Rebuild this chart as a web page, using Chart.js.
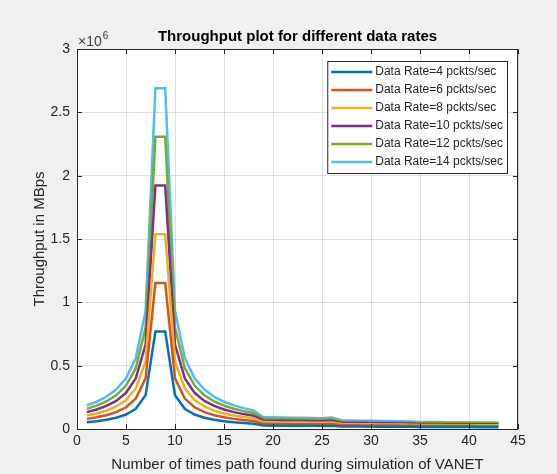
<!DOCTYPE html>
<html>
<head>
<meta charset="utf-8">
<script src="https://cdn.jsdelivr.net/npm/chart.js@4/dist/chart.umd.min.js"></script>
<style>
  html, body { margin: 0; padding: 0; background: #f0f0f0; }
  #wrap { width: 557px; height: 474px; }
</style>
</head>
<body>
<div id="wrap"><canvas id="throughputChart" width="557" height="474"></canvas></div>
<script>
// x positions: number of times path found
const pathCounts = [1, 2, 3, 4, 5, 6, 7, 8, 9, 10, 11, 12, 13, 14, 15, 16, 17, 18, 19, 20, 21, 22,
  23, 24, 25, 26, 27, 28, 29, 30, 31, 32, 33, 34, 35, 36, 37, 38, 39, 40, 41, 42, 43];

// throughput values, in units of 1e6
const rate4 = [0.0533, 0.0615, 0.0727, 0.0889, 0.1143, 0.16, 0.2667, 0.7688, 0.7688, 0.2667, 0.16,
  0.1143, 0.0889, 0.0727, 0.0615, 0.0533, 0.0470, 0.0421, 0.0272, 0.0264, 0.0260, 0.0256, 0.0252,
  0.0248, 0.0244, 0.0260, 0.0196, 0.0192, 0.0188, 0.0184, 0.0180, 0.0180, 0.0176, 0.0172, 0.0160,
  0.0156, 0.0156, 0.0152, 0.0152, 0.0152, 0.0148, 0.0148, 0.0148];
const rate6 = [0.0800, 0.0923, 0.1091, 0.1333, 0.1714, 0.24, 0.40, 1.1532, 1.1532, 0.40, 0.24,
  0.1714, 0.1333, 0.1091, 0.0923, 0.0800, 0.0706, 0.0632, 0.0408, 0.0396, 0.0390, 0.0384, 0.0378,
  0.0372, 0.0366, 0.0390, 0.0294, 0.0288, 0.0282, 0.0276, 0.0270, 0.0270, 0.0264, 0.0258, 0.0240,
  0.0234, 0.0234, 0.0228, 0.0228, 0.0228, 0.0222, 0.0222, 0.0222];
const rate8 = [0.1066, 0.1230, 0.1454, 0.1778, 0.2286, 0.32, 0.5334, 1.5376, 1.5376, 0.5334, 0.32,
  0.2286, 0.1778, 0.1454, 0.1230, 0.1066, 0.0941, 0.0842, 0.0544, 0.0528, 0.0520, 0.0512, 0.0504,
  0.0496, 0.0488, 0.0520, 0.0392, 0.0384, 0.0376, 0.0368, 0.0360, 0.0360, 0.0352, 0.0344, 0.0320,
  0.0312, 0.0312, 0.0304, 0.0304, 0.0304, 0.0296, 0.0296, 0.0296];
const rate10 = [0.1333, 0.1538, 0.1818, 0.2222, 0.2857, 0.40, 0.6667, 1.922, 1.922, 0.6667, 0.40,
  0.2857, 0.2222, 0.1818, 0.1538, 0.1333, 0.1176, 0.1053, 0.068, 0.066, 0.065, 0.064, 0.063,
  0.062, 0.061, 0.065, 0.049, 0.048, 0.047, 0.046, 0.045, 0.045, 0.044, 0.043, 0.040,
  0.039, 0.039, 0.038, 0.038, 0.038, 0.037, 0.037, 0.037];
const rate12 = [0.1600, 0.1846, 0.2182, 0.2666, 0.3428, 0.48, 0.80, 2.3064, 2.3064, 0.80, 0.48,
  0.3428, 0.2666, 0.2182, 0.1846, 0.1600, 0.1411, 0.1264, 0.0816, 0.0792, 0.0780, 0.0768, 0.0756,
  0.0744, 0.0732, 0.0780, 0.0588, 0.0576, 0.0564, 0.0552, 0.0540, 0.0540, 0.0528, 0.0516, 0.0480,
  0.0468, 0.0468, 0.0456, 0.0456, 0.0456, 0.0444, 0.0444, 0.0444];
const rate14 = [0.1866, 0.2153, 0.2545, 0.3111, 0.40, 0.56, 0.9334, 2.6908, 2.6908, 0.9334, 0.56,
  0.40, 0.3111, 0.2545, 0.2153, 0.1866, 0.1646, 0.1474, 0.0952, 0.0924, 0.0910, 0.0896, 0.0882,
  0.0868, 0.0854, 0.0910, 0.0686, 0.0672, 0.0658, 0.0644, 0.0630, 0.0630, 0.0616, 0.0602, 0.0560,
  0.0546, 0.0546, 0.0532, 0.0532, 0.0532, 0.0518, 0.0518, 0.0518];

const seriesLabels = ['Data Rate=4 pckts/sec', 'Data Rate=6 pckts/sec', 'Data Rate=8 pckts/sec',
  'Data Rate=10 pckts/sec', 'Data Rate=12 pckts/sec', 'Data Rate=14 pckts/sec'];
const seriesValues = [rate4, rate6, rate8, rate10, rate12, rate14];
const seriesColors = ['#0072BD', '#D95319', '#EDB120', '#7E2F8E', '#77AC30', '#4DBEEE'];

const FONT = '"Liberation Sans", Arial, Helvetica, sans-serif';
const AXIS_COLOR = '#262626';

// matlab style frame: grey figure, white axes, box with inward ticks, exponent, title, legend
const matlabFrame = {
  id: 'matlabFrame',
  beforeDraw(chart) {
    const { ctx, chartArea: a } = chart;
    ctx.save();
    ctx.fillStyle = '#f0f0f0';
    ctx.fillRect(0, 0, chart.width, chart.height);
    ctx.fillStyle = '#ffffff';
    ctx.fillRect(a.left, a.top, a.right - a.left, a.bottom - a.top);
    ctx.restore();
  },
  afterDatasetsDraw(chart) {
    const { ctx, chartArea: a, scales } = chart;
    ctx.save();
    // box
    ctx.strokeStyle = AXIS_COLOR;
    ctx.lineWidth = 1;
    ctx.strokeRect(a.left + 0.5, a.top + 0.5, a.right - a.left - 1, a.bottom - a.top);
    // inward ticks
    const len = 5;
    ctx.beginPath();
    scales.x.ticks.forEach(t => {
      const px = Math.round(scales.x.getPixelForValue(t.value)) + 0.5;
      ctx.moveTo(px, a.bottom); ctx.lineTo(px, a.bottom - len);
      ctx.moveTo(px, a.top); ctx.lineTo(px, a.top + len);
    });
    scales.y.ticks.forEach(t => {
      const py = Math.round(scales.y.getPixelForValue(t.value)) + 0.5;
      ctx.moveTo(a.left, py); ctx.lineTo(a.left + len, py);
      ctx.moveTo(a.right, py); ctx.lineTo(a.right - len, py);
    });
    ctx.stroke();

    // title, centred on the axes
    ctx.fillStyle = '#000000';
    ctx.font = 'bold 15px ' + FONT;
    ctx.textAlign = 'center';
    ctx.textBaseline = 'middle';
    ctx.fillText('Throughput plot for different data rates', (a.left + a.right) / 2, a.top - 12);

    // y exponent
    ctx.fillStyle = '#404040';
    ctx.textAlign = 'left';
    ctx.textBaseline = 'alphabetic';
    ctx.font = '14px ' + FONT;
    ctx.fillText('\u00d710', a.left + 1, a.top - 3);
    const w = ctx.measureText('\u00d710').width;
    ctx.font = '10px ' + FONT;
    ctx.fillText('6', a.left + 1 + w + 1, a.top - 10);

    // legend
    ctx.font = '12px ' + FONT;
    const rowH = 18;
    const lineLen = 41;
    let textW = 0;
    chart.data.datasets.forEach(ds => { textW = Math.max(textW, ctx.measureText(ds.label).width); });
    const boxW = 4 + lineLen + 3 + textW + 4;
    const boxH = rowH * chart.data.datasets.length + 4;
    const bx = a.right - 11 - boxW;
    const by = a.top + 12;
    ctx.fillStyle = '#ffffff';
    ctx.fillRect(bx, by, boxW, boxH);
    ctx.strokeStyle = AXIS_COLOR;
    ctx.strokeRect(bx + 0.5, by + 0.5, boxW, boxH);
    ctx.textBaseline = 'middle';
    chart.data.datasets.forEach((ds, i) => {
      const cy = by + 11 + i * rowH;
      ctx.strokeStyle = ds.borderColor;
      ctx.lineWidth = 2.5;
      ctx.beginPath();
      ctx.moveTo(bx + 4, cy); ctx.lineTo(bx + 4 + lineLen, cy);
      ctx.stroke();
      ctx.fillStyle = AXIS_COLOR;
      ctx.fillText(ds.label, bx + 4 + lineLen + 3, cy);
    });
    ctx.restore();
  }
};

const datasets = seriesLabels.map((label, i) => ({
  label: label,
  data: pathCounts.map((x, j) => ({ x: x, y: seriesValues[i][j] })),
  borderColor: seriesColors[i],
  backgroundColor: seriesColors[i],
  borderWidth: 2.5,
  pointRadius: 0,
  tension: 0,
  fill: false
}));

new Chart(document.getElementById('throughputChart'), {
  type: 'line',
  data: { datasets: datasets },
  options: {
    responsive: false,
    animation: false,
    events: [],
    layout: { padding: { top: 49, right: 39, bottom: 0, left: 0 } },
    plugins: {
      legend: { display: false },
      title: { display: false },
      tooltip: { enabled: false }
    },
    scales: {
      x: {
        type: 'linear',
        min: 0,
        max: 45,
        ticks: { stepSize: 5, color: AXIS_COLOR, font: { family: FONT, size: 14 }, padding: 4, maxRotation: 0 },
        grid: { color: 'rgba(38,38,38,0.15)', drawTicks: false },
        border: { display: false },
        title: {
          display: true,
          text: 'Number of times path found during simulation of VANET',
          color: AXIS_COLOR,
          font: { family: FONT, size: 15 },
          padding: { top: 4, bottom: 0 }
        },
        afterFit(scale) { scale.height = 45; }
      },
      y: {
        type: 'linear',
        min: 0,
        max: 3,
        ticks: {
          stepSize: 0.5,
          color: AXIS_COLOR,
          font: { family: FONT, size: 14 },
          padding: 7,
          callback: v => String(v)
        },
        grid: { color: 'rgba(38,38,38,0.15)', drawTicks: false },
        border: { display: false },
        title: {
          display: true,
          text: 'Throughput in MBps',
          color: AXIS_COLOR,
          font: { family: FONT, size: 15 },
          padding: { top: 31, bottom: 0 }
        },
        afterFit(scale) { scale.width = 77; }
      }
    }
  },
  plugins: [matlabFrame]
});
</script>
</body>
</html>
